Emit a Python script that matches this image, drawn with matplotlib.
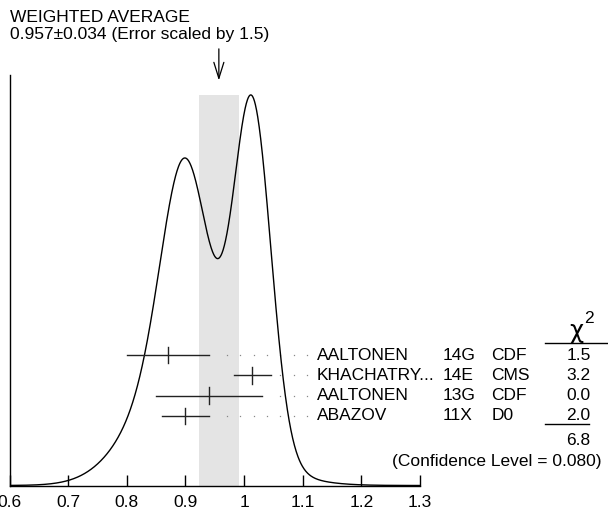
import numpy as np
import matplotlib
matplotlib.use("Agg")
import matplotlib.pyplot as plt

plt.rcParams['font.family'] = ['Liberation Sans', 'DejaVu Sans']

names = ['AALTONEN', 'KHACHATRY...', 'AALTONEN', 'ABAZOV']
years = ['14G', '14E', '13G', '11X']
expts = ['CDF', 'CMS', 'CDF', 'D0']
values = [0.870, 1.014, 0.940, 0.900]
errors = [0.070, 0.032, 0.090, 0.040]
chi2_labels = ['1.5', '3.2', '0.0', '2.0']
chi2_total = '6.8'
conf_level = '0.080'
avg, avg_err, scale = 0.957, 0.034, 1.5

xticks = [0.6, 0.7, 0.8, 0.9, 1.0, 1.1, 1.2, 1.3]
xticklabels = ['0.6', '0.7', '0.8', '0.9', '1', '1.1', '1.2', '1.3']

W, H = 608, 512
fig = plt.figure(figsize=(W / 100, H / 100), dpi=100)
ax = fig.add_axes([9.5 / W, 1 - 485.5 / H, 410.5 / W, 410.5 / H])
ytop = 1.051
ax.set_xlim(0.6, 1.3)
ax.set_ylim(0, ytop)

# ideogram: gaussians with area ~ 1/sigma
x = np.linspace(0.6, 1.3, 1400)
curve = np.zeros_like(x)
for v, e in zip(values, errors):
    curve += np.exp(-(x - v) ** 2 / (2 * e ** 2)) / e ** 2
curve /= curve.max()

ax.axvspan(avg - avg_err, avg + avg_err, ymin=0, ymax=1.0 / ytop, color='#e4e4e4', lw=0, zorder=0)
ax.plot(x, curve, color='black', lw=1.0, zorder=3)

# rows of measurements
fs = 12.5
row_y = 0.334 - 0.052 * np.arange(len(values))
dot_x = 0.9705 + 0.0228 * np.arange(7)
for i, (v, e) in enumerate(zip(values, errors)):
    y = row_y[i]
    ax.plot([v - e, v + e], [y, y], color='#222222', lw=1.0, zorder=4)
    ax.plot([v, v], [y - 0.021, y + 0.021], color='#222222', lw=1.0, zorder=4)
    dx = dot_x[dot_x > v + e + 0.015]
    ax.plot(dx, [y] * len(dx), ls='none', marker='s', ms=0.9, mew=0, color='#888888', zorder=2)
    ax.text(1.124, y, names[i], fontsize=fs, va='center', ha='left', clip_on=False)
    ax.text(1.3385, y, years[i], fontsize=fs, va='center', ha='left', clip_on=False)
    ax.text(1.422, y, expts[i], fontsize=fs, va='center', ha='left', clip_on=False)
    ax.text(1.570, y, chi2_labels[i], fontsize=fs, va='center', ha='center', clip_on=False)

# chi2 column header and total
ax.text(1.5665, 0.378, u'\u03c7', fontsize=fs + 5, va='baseline', ha='center',
        family='DejaVu Sans', clip_on=False)
ax.text(1.580, 0.415, '2', fontsize=fs, va='baseline', ha='left', clip_on=False)
ax.plot([1.514, 1.62], [0.365, 0.365], color='black', lw=1.0, clip_on=False)
ax.plot([1.514, 1.589], [0.157, 0.157], color='black', lw=1.0, clip_on=False)
ax.text(1.570, 0.114, chi2_total, fontsize=fs, va='center', ha='center', clip_on=False)
ax.text(1.6094, 0.0627, '(Confidence Level = %s)' % conf_level, fontsize=fs,
        va='center', ha='right', clip_on=False)

# arrow at the weighted average
ax.annotate('', xy=(avg, 1.030), xytext=(avg, 1.125), xycoords='data',
            arrowprops=dict(arrowstyle='->,head_length=1.15,head_width=0.36', color='black', lw=0.9),
            annotation_clip=False)

fig.text(10 / W, 1 - 22 / H, 'WEIGHTED AVERAGE', fontsize=fs, va='baseline', ha='left')
fig.text(10 / W, 1 - 38.5 / H, u'%.3f\u00b1%.3f (Error scaled by %.1f)' % (avg, avg_err, scale),
         fontsize=fs, va='baseline', ha='left')

for s in ['top', 'right']:
    ax.spines[s].set_visible(False)
ax.spines['left'].set_linewidth(1.0)
ax.spines['bottom'].set_linewidth(1.0)
ax.set_yticks([])
ax.set_xticks(xticks)
ax.set_xticklabels(xticklabels, fontsize=fs)
ax.tick_params(axis='x', direction='in', length=8, width=1.0, pad=7)

fig.savefig('out.png', dpi=100)
